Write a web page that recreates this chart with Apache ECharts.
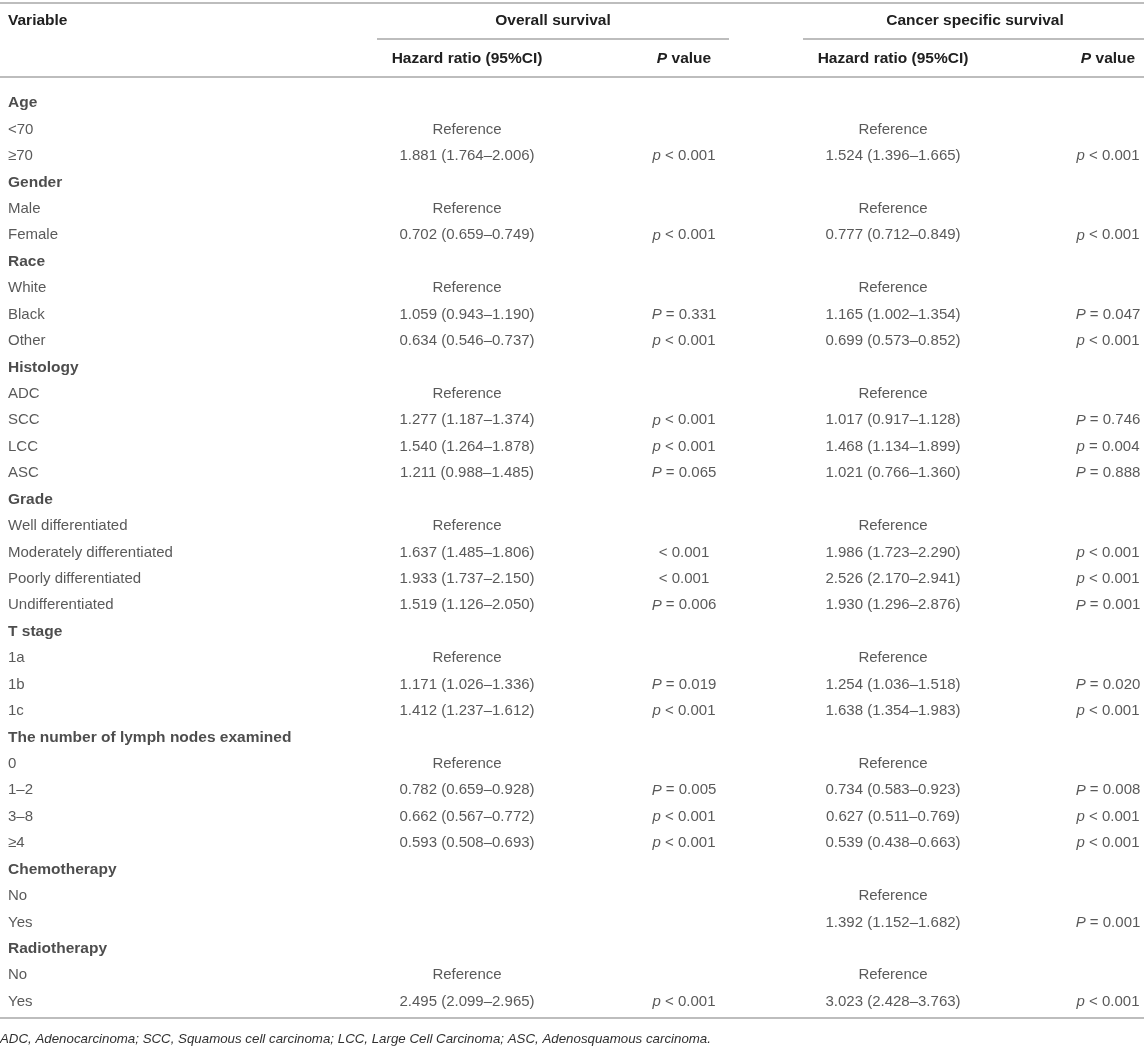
<!DOCTYPE html>
<html>
<head>
<meta charset="utf-8">
<script src="https://cdn.jsdelivr.net/npm/echarts@6/dist/echarts.min.js"></script>
<style>html,body{margin:0;padding:0;background:#fff}#c{width:1144px;height:1050px}</style>
</head>
<body>
<div id="c"></div>
<script>
// ---- data ----
const variables = ['Age','<70','≥70','Gender','Male','Female','Race','White','Black','Other','Histology','ADC','SCC','LCC','ASC','Grade','Well differentiated','Moderately differentiated','Poorly differentiated','Undifferentiated','T stage','1a','1b','1c','The number of lymph nodes examined','0','1–2','3–8','≥4','Chemotherapy','No','Yes','Radiotherapy','No','Yes'];
const groupRows = [0,3,6,10,15,20,24,29,32];
const osHR = ['','Reference','1.881 (1.764–2.006)','','Reference','0.702 (0.659–0.749)','','Reference','1.059 (0.943–1.190)','0.634 (0.546–0.737)','','Reference','1.277 (1.187–1.374)','1.540 (1.264–1.878)','1.211 (0.988–1.485)','','Reference','1.637 (1.485–1.806)','1.933 (1.737–2.150)','1.519 (1.126–2.050)','','Reference','1.171 (1.026–1.336)','1.412 (1.237–1.612)','','Reference','0.782 (0.659–0.928)','0.662 (0.567–0.772)','0.593 (0.508–0.693)','','','','','Reference','2.495 (2.099–2.965)'];
const osP = ['','','p < 0.001','','','p < 0.001','','','P = 0.331','p < 0.001','','','p < 0.001','p < 0.001','P = 0.065','','','< 0.001','< 0.001','P = 0.006','','','P = 0.019','p < 0.001','','','P = 0.005','p < 0.001','p < 0.001','','','','','','p < 0.001'];
const cssHR = ['','Reference','1.524 (1.396–1.665)','','Reference','0.777 (0.712–0.849)','','Reference','1.165 (1.002–1.354)','0.699 (0.573–0.852)','','Reference','1.017 (0.917–1.128)','1.468 (1.134–1.899)','1.021 (0.766–1.360)','','Reference','1.986 (1.723–2.290)','2.526 (2.170–2.941)','1.930 (1.296–2.876)','','Reference','1.254 (1.036–1.518)','1.638 (1.354–1.983)','','Reference','0.734 (0.583–0.923)','0.627 (0.511–0.769)','0.539 (0.438–0.663)','','Reference','1.392 (1.152–1.682)','','Reference','3.023 (2.428–3.763)'];
const cssP = ['','','p < 0.001','','','p < 0.001','','','P = 0.047','p < 0.001','','','P = 0.746','p = 0.004','P = 0.888','','','p < 0.001','p < 0.001','P = 0.001','','','P = 0.020','p < 0.001','','','P = 0.008','p < 0.001','p < 0.001','','','P = 0.001','','','p < 0.001'];
const headerGroups = ['Overall survival','Cancer specific survival'];
const headerSub = ['Hazard ratio (95%CI)','P value'];
const footnote = 'ADC, Adenocarcinoma; SCC, Squamous cell carcinoma; LCC, Large Cell Carcinoma; ASC, Adenosquamous carcinoma.';

// ---- layout ----
const FONT = '"Liberation Sans", Arial, Helvetica, sans-serif';
const TXT = '#303030';
const BOLDC = '#202020';
const LINE = '#bdbdbd';
const colX = {v: 8, osHR: 467, osP: 684, cssHR: 893, cssP: 1108};
const FS = 15;
const FSB = 15.5;

const chart = echarts.init(document.getElementById('c'), null, {renderer: 'canvas'});

function pRich(s) {
  if (!s) return '';
  const m = s.match(/^([pP])(.*)$/);
  if (m) return '{i|' + m[1] + '}{n|' + m[2] + '}';
  return '{n|' + s + '}';
}

function colSeries(name, x, arr, align, fmt) {
  return {
    type: 'scatter', name: name, symbolSize: 0, silent: true,
    data: arr.map((t, i) => ({value: [x, i], txt: t})).filter(d => d.txt !== ''),
    label: {
      show: true, position: 'inside', align: align, verticalAlign: 'middle',
      fontFamily: FONT, fontSize: FS, color: TXT,
      formatter: p => fmt ? fmt(p.data.txt, p.data.value[1]) : p.data.txt,
      rich: {
        i: {fontFamily: FONT, fontSize: FS, color: TXT, fontStyle: 'italic'},
        n: {fontFamily: FONT, fontSize: FS, color: TXT},
        b: {fontFamily: FONT, fontSize: FSB, color: BOLDC, fontWeight: 'bold'}
      }
    }
  };
}

const hline = (x1, x2, y) => ({type: 'line', silent: true, shape: {x1: x1, y1: y, x2: x2, y2: y}, style: {stroke: LINE, lineWidth: 2}});
const htext = (x, y, rich, align) => ({type: 'text', silent: true, x: x, y: y, style: {text: rich, align: align, verticalAlign: 'middle', fontFamily: FONT, fontSize: FSB, fill: BOLDC, fontWeight: 'bold',
  rich: {bi: {fontFamily: FONT, fontSize: FSB, fill: BOLDC, fontWeight: 'bold', fontStyle: 'italic'}, b: {fontFamily: FONT, fontSize: FSB, fill: BOLDC, fontWeight: 'bold'}}}});

const subP = '{bi|P}{b| value}';

chart.setOption({
  animation: false,
  grid: {left: 0, right: 0, top: 90, bottom: 35, containLabel: false},
  xAxis: {type: 'value', min: 0, max: 1144, show: false},
  yAxis: {type: 'category', inverse: true, data: variables.map((v, i) => String(i)), show: false, boundaryGap: true},
  series: [
    colSeries('variable', colX.v, variables, 'left', (t, i) => groupRows.indexOf(i) >= 0 ? '{b|' + t + '}' : '{n|' + t + '}'),
    colSeries('osHR', colX.osHR, osHR, 'center'),
    colSeries('osP', colX.osP, osP, 'center', pRich),
    colSeries('cssHR', colX.cssHR, cssHR, 'center'),
    colSeries('cssP', colX.cssP, cssP, 'center', pRich)
  ],
  graphic: [
    hline(0, 1144, 3),
    htext(8, 21, 'Variable', 'left'),
    htext(553, 21, headerGroups[0], 'center'),
    htext(975, 21, headerGroups[1], 'center'),
    hline(377, 729, 39),
    hline(803, 1144, 39),
    htext(colX.osHR, 59, headerSub[0], 'center'),
    htext(colX.osP, 59, subP, 'center'),
    htext(colX.cssHR, 59, headerSub[0], 'center'),
    htext(colX.cssP, 59, subP, 'center'),
    hline(0, 1144, 77),
    hline(0, 1144, 1018),
    {type: 'text', silent: true, x: 0, y: 1039, style: {text: footnote, align: 'left', verticalAlign: 'middle', fontFamily: FONT, fontSize: 13.3, fontStyle: 'italic', fill: TXT}}
  ]
});
</script>
</body>
</html>
